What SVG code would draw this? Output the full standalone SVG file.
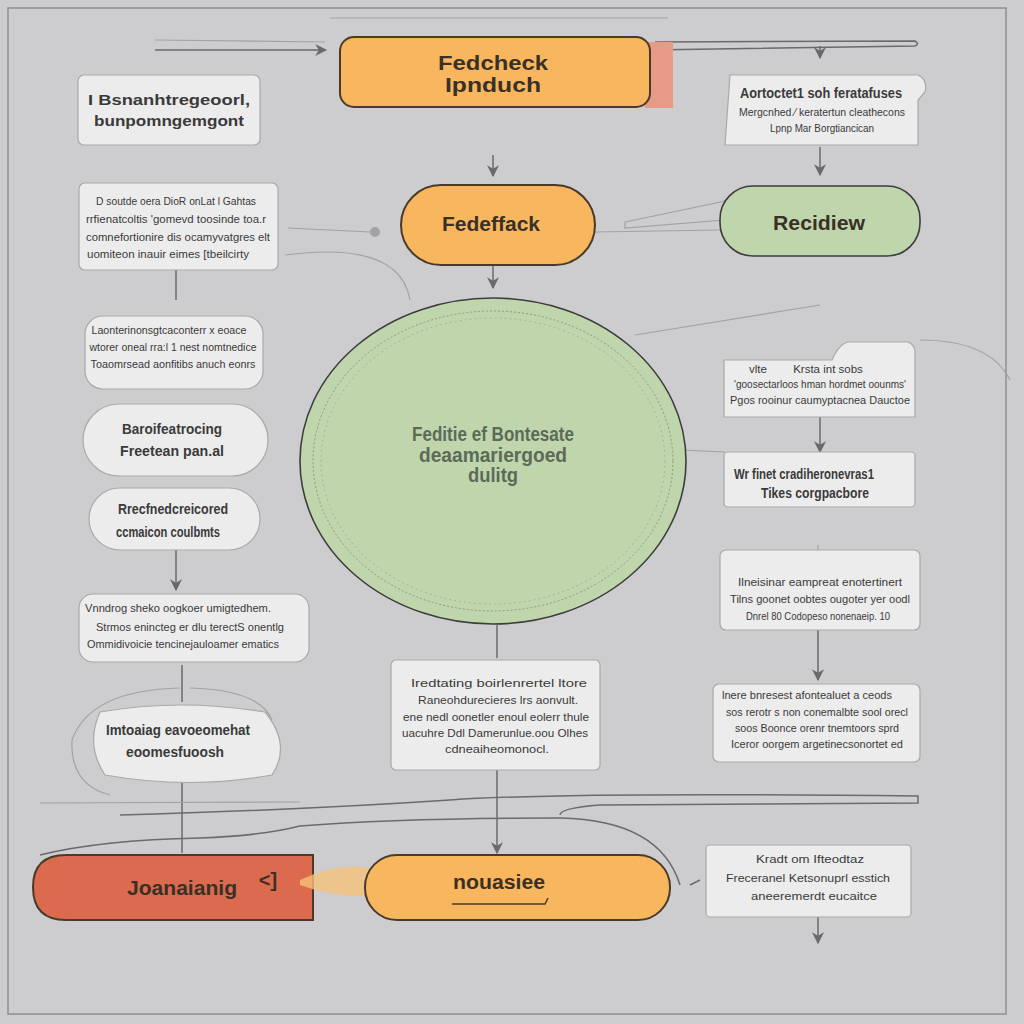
<svg xmlns="http://www.w3.org/2000/svg" width="1024" height="1024" viewBox="0 0 1024 1024">
<defs>
<style>
.box{fill:#ececec;stroke:#a9a9ab;stroke-width:1.2}
.orange{fill:#f8b75e;stroke:#4a3a2c;stroke-width:2}
.green{fill:#bfd6ad;stroke:#3d3d3d;stroke-width:1.6}
.red{fill:#dc6a4e;stroke:#4a3a2c;stroke-width:2}
.t{font-family:"Liberation Sans",Arial,sans-serif;fill:#3a3a3a;text-anchor:middle}
.s{font-size:11.5px}
.m{font-size:14px;font-weight:bold}
.b{font-size:20px;font-weight:bold;fill:#3a3026}
.c{fill:none;stroke:#6a6a6c;stroke-width:1.5}
.f{fill:none;stroke:#a3a3a6;stroke-width:1.2}
</style>
<marker id="ah" viewBox="0 0 10 10" refX="9" refY="5" markerWidth="8" markerHeight="8" orient="auto-start-reverse">
<path d="M0,0 L10,5 L0,10 L3,5 z" fill="#6a6a6c"/>
</marker>
</defs>
<rect x="0" y="0" width="1024" height="1024" fill="#cdcdd0"/>
<rect x="8" y="8" width="998" height="1006" fill="none" stroke="#8e8e91" stroke-width="1.5"/>

<g id="connectors">
<path class="f" d="M330,18 L668,18"/>
<path class="c" d="M155,50 L326,50" marker-end="url(#ah)"/>
<path class="f" d="M155,40 L325,42"/>
<path class="c" d="M650,50 L915,46 Q920,44 915,41 L655,42"/>
<path class="c" d="M820,46 L820,58" marker-end="url(#ah)"/>
<path class="c" d="M820,147 L820,175" marker-end="url(#ah)"/>
<path class="c" d="M493,155 L493,176" marker-end="url(#ah)"/>
<path class="c" d="M493,253 L493,288" marker-end="url(#ah)"/>
<path class="f" d="M288,228 L370,232"/>
<circle cx="375" cy="232" r="5" fill="#a3a3a6"/>
<path class="f" d="M595,232 L720,230"/>
<path class="f" d="M625,222 L740,198 L748,218 L625,228 z" fill="#c4d9b4"/>
<path class="c" d="M745,222 L760,222" marker-end="url(#ah)"/>
<path class="c" d="M176,270 L176,300"/>
<path class="f" d="M285,255 Q400,240 410,300"/>
<path class="f" d="M635,335 L820,305"/>
<path class="f" d="M920,340 Q990,340 1010,380"/>
<path class="f" d="M680,450 L725,452"/>
<path class="c" d="M176,550 L176,590" marker-end="url(#ah)"/>
<path class="c" d="M182,665 L182,702"/>
<path class="f" d="M180,688 Q90,690 72,740 Q70,785 110,795"/>
<path class="f" d="M190,688 Q260,690 272,720"/>
<path class="c" d="M182,783 L182,853"/>
<path class="c" d="M497,625 L497,658"/>
<path class="c" d="M497,770 L497,853" marker-end="url(#ah)"/>
<path class="c" d="M820,417 L820,452" marker-end="url(#ah)"/>
<path class="f" d="M818,545 L818,558" stroke-width="4"/>
<path class="c" d="M818,630 L818,680" marker-end="url(#ah)"/>
<path class="c" d="M818,917 L818,943" marker-end="url(#ah)"/>
<path class="f" d="M40,803 L300,802"/>
<path class="c" d="M120,815 Q300,810 450,800 Q560,792 918,796 L918,803 L600,805 Q560,808 560,815"/>
<path class="c" d="M40,855 Q100,840 200,838 Q260,836 300,826 Q400,818 560,818 Q660,820 680,885"/>
<path class="c" d="M700,880 L690,885"/>
</g>

<g id="n1">
<rect x="645" y="42" width="28" height="66" fill="#e79a86"/>
<rect class="orange" x="340" y="37" width="310" height="70" rx="14"/>
<text class="t b" x="493" y="70" textLength="110" lengthAdjust="spacingAndGlyphs">Fedcheck</text>
<text class="t b" x="493" y="92" textLength="96" lengthAdjust="spacingAndGlyphs">Ipnduch</text>
</g>

<g id="n2">
<rect class="box" x="78" y="75" width="182" height="70" rx="6"/>
<text class="t m" x="169" y="105" textLength="162" lengthAdjust="spacingAndGlyphs">I Bsnanhtregeoorl,</text>
<text class="t m" x="169" y="126" textLength="150" lengthAdjust="spacingAndGlyphs">bunpomngemgont</text>
</g>

<g id="n3">
<rect class="box" x="79" y="183" width="199" height="87" rx="6"/>
<text class="t s" x="176" y="205" textLength="160" lengthAdjust="spacingAndGlyphs">D soutde  oera DioR onLat l Gahtas</text>
<text class="t s" x="176" y="223" textLength="180" lengthAdjust="spacingAndGlyphs">rrfienatcoltis 'gomevd toosinde toa.r</text>
<text class="t s" x="178" y="241" textLength="184" lengthAdjust="spacingAndGlyphs">comnefortionire dis ocamyvatgres elt</text>
<text class="t s" x="168" y="258" textLength="162" lengthAdjust="spacingAndGlyphs">uomiteon inauir eimes [tbeilcirty</text>
</g>

<g id="n4">
<rect class="box" x="85" y="316" width="178" height="73" rx="18"/>
<text class="t s" x="169" y="334" textLength="155" lengthAdjust="spacingAndGlyphs">Laonterinonsgtcaconterr x eoace</text>
<text class="t s" x="173" y="351" textLength="167" lengthAdjust="spacingAndGlyphs">wtorer oneal rra:l 1 nest nomtnedice</text>
<text class="t s" x="173" y="368" textLength="165" lengthAdjust="spacingAndGlyphs">Toaomrsead aonfitibs anuch eonrs</text>
</g>

<g id="n5">
<rect class="box" x="83" y="404" width="185" height="72" rx="36"/>
<text class="t m" x="172" y="434" textLength="100" lengthAdjust="spacingAndGlyphs">Baroifeatrocing</text>
<text class="t m" x="172" y="456" textLength="104" lengthAdjust="spacingAndGlyphs">Freetean pan.al</text>
</g>

<g id="n6">
<rect class="box" x="89" y="488" width="171" height="62" rx="31"/>
<text class="t m" x="173" y="514" textLength="110" lengthAdjust="spacingAndGlyphs">Rrecfnedcreicored</text>
<text class="t m" x="168" y="537" textLength="104" lengthAdjust="spacingAndGlyphs">ccmaicon  coulbmts</text>
</g>

<g id="n7">
<rect class="box" x="79" y="594" width="230" height="68" rx="14"/>
<text class="t s" x="178" y="612" textLength="186" lengthAdjust="spacingAndGlyphs">Vnndrog sheko oogkoer umigtedhem.</text>
<text class="t s" x="190" y="631" textLength="188" lengthAdjust="spacingAndGlyphs">Strmos enincteg er dlu terectS onentlg</text>
<text class="t s" x="183" y="648" textLength="192" lengthAdjust="spacingAndGlyphs">Ommidivoicie tencinejauloamer ematics</text>
</g>

<g id="n8">
<path class="box" d="M100,712 Q180,698 265,712 Q292,745 272,775 Q190,790 105,775 Q85,745 100,712 z"/>
<text class="t m" x="178" y="735" textLength="144" lengthAdjust="spacingAndGlyphs">Imtoaiag eavoeomehat</text>
<text class="t m" x="175" y="757" textLength="98" lengthAdjust="spacingAndGlyphs">eoomesfuoosh</text>
</g>

<g id="n9">
<path class="red" d="M66,855 L313,855 L313,920 L66,920 Q33,920 33,887 Q33,855 66,855 z"/>
<text class="t b" x="182" y="895" textLength="110" lengthAdjust="spacingAndGlyphs">Joanaianig</text>
<text class="t b" x="268" y="887" font-size="18">&lt;]</text>
</g>

<g id="n10">
<path d="M300,880 Q340,860 380,870 L385,895 Q340,900 300,885 z" fill="#f4c27a" opacity="0.8"/>
<rect class="orange" x="365" y="855" width="305" height="65" rx="32"/>
<text class="t b" x="499" y="889" textLength="92" lengthAdjust="spacingAndGlyphs">nouasiee</text>
<path d="M452,904 L545,904 L548,898" fill="none" stroke="#4a3a2c" stroke-width="1.5"/>
</g>

<g id="n11">
<rect class="orange" x="401" y="185" width="194" height="80" rx="40"/>
<text class="t b" x="491" y="231" font-size="19" textLength="98" lengthAdjust="spacingAndGlyphs">Fedeffack</text>
</g>

<g id="n12">
<rect class="green" x="720" y="186" width="200" height="70" rx="33"/>
<text class="t b" x="819" y="230" font-size="19" textLength="92" lengthAdjust="spacingAndGlyphs">Recidiew</text>
</g>

<g id="n13">
<path class="box" d="M730,75 L918,75 Q928,80 925,92 L918,100 L918,145 L725,145 z"/>
<text class="t m" x="821" y="98" font-size="13" textLength="162" lengthAdjust="spacingAndGlyphs">Aortoctet1 soh feratafuses</text>
<text class="t s" x="822" y="116" font-size="10" textLength="166" lengthAdjust="spacingAndGlyphs">Mergcnhed &#8260; keratertun cleathecons</text>
<text class="t s" x="822" y="132" font-size="10" textLength="104" lengthAdjust="spacingAndGlyphs">Lpnp Mar Borgtiancican</text>
</g>

<g id="n14">
<ellipse class="green" cx="493" cy="461" rx="193" ry="163"/>
<ellipse cx="493" cy="461" rx="180" ry="150" fill="none" stroke="#8a9a80" stroke-width="1" stroke-dasharray="2,2"/>
<ellipse cx="493" cy="461" rx="172" ry="143" fill="none" stroke="#9aaa90" stroke-width="0.8" stroke-dasharray="2,3"/>
<text class="t b" x="493" y="441" font-size="17" fill="#5d6a58" style="fill:#5d6a58" textLength="162" lengthAdjust="spacingAndGlyphs">Feditie ef Bontesate</text>
<text class="t b" x="493" y="462" font-size="17" style="fill:#5d6a58" textLength="148" lengthAdjust="spacingAndGlyphs">deaamariergoed</text>
<text class="t b" x="493" y="482" font-size="15" style="fill:#5d6a58" textLength="50" lengthAdjust="spacingAndGlyphs">dulitg</text>
</g>

<g id="n15">
<path class="box" d="M724,360 L832,360 Q840,342 850,342 L908,342 Q915,345 915,352 L915,417 L724,417 z"/>
<text class="t s" x="758" y="373" font-size="10">vlte</text>
<text class="t s" x="828" y="373" font-size="10">Krsta int sobs</text>
<text class="t s" x="820" y="388" font-size="10" textLength="172" lengthAdjust="spacingAndGlyphs">'goosectarloos hman hordmet oounms'</text>
<text class="t s" x="820" y="404" font-size="10" textLength="180" lengthAdjust="spacingAndGlyphs">Pgos rooinur caumyptacnea Dauctoe</text>
</g>

<g id="n16">
<rect class="box" x="724" y="452" width="191" height="55" rx="4"/>
<text class="t m" x="804" y="479" font-size="13" textLength="140" lengthAdjust="spacingAndGlyphs">Wr finet cradiheronevras1</text>
<text class="t m" x="815" y="498" font-size="13" textLength="108" lengthAdjust="spacingAndGlyphs">Tikes corgpacbore</text>
</g>

<g id="n17">
<rect class="box" x="720" y="550" width="200" height="80" rx="6"/>
<text class="t s" x="820" y="586" textLength="164" lengthAdjust="spacingAndGlyphs">Ilneisinar eampreat enotertinert</text>
<text class="t s" x="820" y="603" textLength="180" lengthAdjust="spacingAndGlyphs">Tilns goonet oobtes ougoter yer oodl</text>
<text class="t s" x="818" y="620" textLength="144" lengthAdjust="spacingAndGlyphs">Dnrel 80 Codopeso nonenaeip.  10</text>
</g>

<g id="n18">
<rect class="box" x="713" y="684" width="207" height="78" rx="6"/>
<text class="t s" x="807" y="699" textLength="170" lengthAdjust="spacingAndGlyphs">lnere bnresest afontealuet a ceods</text>
<text class="t s" x="817" y="716" textLength="182" lengthAdjust="spacingAndGlyphs">sos rerotr s non conemalbte sool orecl</text>
<text class="t s" x="817" y="732" textLength="164" lengthAdjust="spacingAndGlyphs">soos Boonce orenr tnemtoors sprd</text>
<text class="t s" x="817" y="748" textLength="172" lengthAdjust="spacingAndGlyphs">Iceror oorgem argetinecsonortet ed</text>
</g>

<g id="n19">
<rect class="box" x="391" y="660" width="209" height="110" rx="5"/>
<text class="t s" x="499" y="687" textLength="176" lengthAdjust="spacingAndGlyphs">Iredtating boirlenrertel ltore</text>
<text class="t s" x="498" y="704" textLength="160" lengthAdjust="spacingAndGlyphs">Raneohdurecieres lrs aonvult.</text>
<text class="t s" x="496" y="721" textLength="186" lengthAdjust="spacingAndGlyphs">ene nedl oonetler enoul eolerr thule</text>
<text class="t s" x="495" y="737" textLength="186" lengthAdjust="spacingAndGlyphs">uacuhre Ddl Damerunlue.oou  Olhes</text>
<text class="t s" x="497" y="753" textLength="104" lengthAdjust="spacingAndGlyphs">cdneaiheomonocl.</text>
</g>

<g id="n20">
<rect class="box" x="706" y="845" width="205" height="72" rx="4"/>
<text class="t s" x="810" y="863" font-size="12" textLength="108" lengthAdjust="spacingAndGlyphs">Kradt om Ifteodtaz</text>
<text class="t s" x="808" y="882" font-size="12" textLength="164" lengthAdjust="spacingAndGlyphs">Freceranel Ketsonuprl esstich</text>
<text class="t s" x="814" y="900" font-size="12" textLength="126" lengthAdjust="spacingAndGlyphs">aneeremerdt eucaitce</text>
</g>
</svg>
